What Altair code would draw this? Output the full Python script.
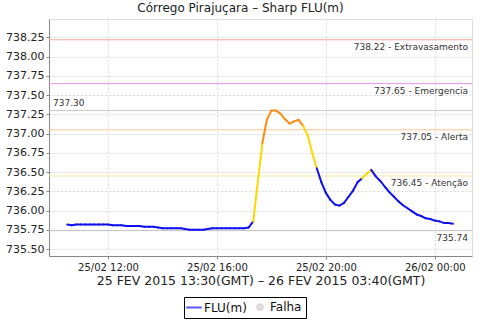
import altair as alt
import pandas as pd

# ---- data ----
times = [
    "10:30", "10:40", "10:50", "11:00", "11:10", "11:20", "11:30", "11:40", "11:50",
    "12:00", "12:10", "12:20", "12:30", "12:40", "12:50", "13:00", "13:10", "13:20",
    "13:30", "13:40", "13:50", "14:00", "14:10", "14:20", "14:30", "14:40", "14:50",
    "15:00", "15:10", "15:20", "15:30", "15:40", "15:50", "16:00", "16:10", "16:20",
    "16:30", "16:40", "16:50", "17:00", "17:10", "17:20", "17:40", "17:50",
    "18:00", "18:10", "18:20", "18:30", "18:40", "18:50", "19:00", "19:10", "19:20",
    "19:30", "19:40", "19:50", "20:00", "20:10", "20:20", "20:30", "20:40", "20:50",
    "21:00", "21:10", "21:20", "21:30", "21:40", "21:50", "22:00", "22:10", "22:20",
    "22:30", "22:40", "22:50", "23:00", "23:10", "23:20", "23:30", "23:40", "23:50",
    "00:00", "00:10", "00:20", "00:30", "00:40",
]
levels = [
    735.82, 735.81, 735.82, 735.82, 735.82, 735.82, 735.82, 735.82, 735.82,
    735.82, 735.81, 735.81, 735.81, 735.80, 735.80, 735.80, 735.80, 735.79,
    735.79, 735.79, 735.78, 735.77, 735.77, 735.77, 735.77, 735.77, 735.76,
    735.75, 735.75, 735.75, 735.75, 735.76, 735.77, 735.77, 735.77, 735.77,
    735.77, 735.77, 735.77, 735.77, 735.78, 735.86, 736.875, 737.18,
    737.30, 737.30, 737.26, 737.19, 737.13, 737.16, 737.18, 737.10, 736.98,
    736.75, 736.55, 736.37, 736.23, 736.14, 736.08, 736.065, 736.10, 736.18,
    736.26, 736.37, 736.42, 736.48, 736.53, 736.445, 736.385, 736.31, 736.24,
    736.18, 736.12, 736.07, 736.03, 735.99, 735.95, 735.93, 735.90, 735.89,
    735.87, 735.86, 735.84, 735.84, 735.83,
]

thr_values = [738.22, 737.65, 737.30, 737.05, 736.45, 735.74]
thr_names = ["Extravasamento", "Emergencia", "Ref", "Alerta", "Atenção", "Min"]
thr_labels = ["738.22 - Extravasamento", "737.65 - Emergencia", "", "737.05 - Alerta",
              "736.45 - Atenção", "735.74"]
left_label = "737.30"
y_ticks = [735.50, 735.75, 736.00, 736.25, 736.50, 736.75, 737.00, 737.25,
           737.50, 737.75, 738.00, 738.25]
legend_items = ["FLU(m)", "Falha"]

title_text = "Córrego Pirajuçara – Sharp FLU(m)"
x_title = "25 FEV 2015 13:30(GMT) – 26 FEV 2015 03:40(GMT)"

# ---- styles ----
thr_colors = ["#f4a0a0", "#e894e8", "#c8c8c8", "#ffc998", "#fbe79a", "#c0c0c0"]
seg_colors = ["#1010f4", "#ffd800", "#ff8c10"]
FONT = "DejaVu Sans"


def iso(hm):
    day = 25 if int(hm[:2]) >= 10 else 26
    return f"2015-02-{day}T{hm}:00Z"


def band(v):
    if v > 737.05:
        return "alto"
    if v > 736.45:
        return "medio"
    return "baixo"


seg = pd.DataFrame({
    "t0": [iso(t) for t in times[:-1]],
    "t1": [iso(t) for t in times[1:]],
    "v0": levels[:-1],
    "v1": levels[1:],
    "b": [band(v) for v in levels[1:]],
})

thr = pd.DataFrame({"v": thr_values, "name": thr_names, "label": thr_labels,
                    "xr": "2015-02-26T01:22:00Z", "xl": "2015-02-25T09:50:00Z"})
thr_left = thr[thr["name"] == "Ref"].assign(label=left_label)

leg = pd.DataFrame({"s": legend_items, "t": "2015-02-25T05:00:00Z", "v": 734.0})

x_dom = [alt.DateTime(year=2015, month=2, date=25, hours=9, minutes=50, utc=True),
         alt.DateTime(year=2015, month=2, date=26, hours=1, minutes=22, utc=True)]
x_vals = [alt.DateTime(year=2015, month=2, date=25, hours=12, utc=True),
          alt.DateTime(year=2015, month=2, date=25, hours=16, utc=True),
          alt.DateTime(year=2015, month=2, date=25, hours=20, utc=True),
          alt.DateTime(year=2015, month=2, date=26, hours=0, utc=True)]

x_axis = alt.Axis(values=x_vals, format="%d/%m %H:%M", title=x_title,
                  labelFontSize=10, labelFont=FONT, labelColor="#222",
                  titleFontSize=12.5, titleFont=FONT, titleFontWeight="normal",
                  titleColor="#222", titlePadding=2, labelPadding=3,
                  gridDash=[2, 2], gridColor="#d8d8d8", domainColor="#888",
                  tickColor="#888", tickSize=3, labelOverlap=False)
y_axis = alt.Axis(values=y_ticks, format=".2f", title=None,
                  labelFontSize=11, labelFont=FONT, labelColor="#222",
                  gridDash=[2, 2], gridColor="#d8d8d8", domainColor="#888",
                  tickColor="#888", tickSize=3, labelPadding=2, labelOverlap=False)
x_scale = alt.Scale(type="utc", domain=x_dom)
y_scale = alt.Scale(domain=[735.41, 738.49], zero=False, nice=False)


def X(field):
    return alt.X(field, scale=x_scale, axis=x_axis)


def Y(field):
    return alt.Y(field, scale=y_scale, axis=y_axis)


thr_rules = alt.Chart(thr).mark_rule(strokeWidth=1).encode(
    y=Y("v:Q"),
    color=alt.Color("name:N", scale=alt.Scale(domain=thr_names, range=thr_colors),
                    legend=None),
)

thr_text = alt.Chart(thr).mark_text(align="right", baseline="top", dx=-4, dy=3,
                                     fontSize=9, font=FONT, color="#333").encode(
    x=X("xr:T"), y=Y("v:Q"), text="label:N")

thr_text_left = alt.Chart(thr_left).mark_text(align="left", baseline="bottom", dx=4, dy=-3,
                                               fontSize=9, font=FONT, color="#333").encode(
    x=X("xl:T"), y=Y("v:Q"), text="label:N")

segments = alt.Chart(seg).mark_rule(strokeWidth=2, strokeCap="round").encode(
    x=X("t0:T"),
    x2="t1:T",
    y=Y("v0:Q"),
    y2="v1:Q",
    color=alt.Color("b:N", scale=alt.Scale(domain=["baixo", "medio", "alto"], range=seg_colors),
                    legend=None),
)

leg_layer = alt.Chart(leg).mark_point(filled=True, clip=True, size=30).encode(
    x=X("t:T"), y=Y("v:Q"),
    fill=alt.Fill("s:N", title=None,
                  scale=alt.Scale(domain=legend_items, range=["#1010f4", "#c8c8c8"]),
                  legend=alt.Legend(orient="none", legendX=135, legendY=278,
                                    direction="horizontal", strokeColor="#000",
                                    padding=4, labelFontSize=12, labelFont=FONT,
                                    labelColor="#111", symbolSize=30,
                                    symbolStrokeWidth=2, columnPadding=6,
                                    labelOffset=4)),
    stroke=alt.Stroke("s:N", title=None,
                      scale=alt.Scale(domain=legend_items, range=["#1010f4", "#c8c8c8"])),
    shape=alt.Shape("s:N", title=None,
                    scale=alt.Scale(domain=legend_items, range=["M-2.85,0L2.85,0", "circle"])),
)

chart = alt.layer(thr_rules, segments, thr_text, thr_text_left, leg_layer).resolve_scale(
    color="independent"
).properties(
    width=423, height=237,
    autosize=alt.AutoSizeParams(type="none"),
    padding={"left": 49, "top": 19, "right": 8, "bottom": 64},
    title=alt.TitleParams(title_text, fontSize=12, font=FONT, fontWeight="normal",
                          color="#222", anchor="middle", frame="group", dx=-20, offset=4),
).configure_view(stroke="#c0c0c0", strokeWidth=1).configure(background="white")

chart.save("out.html", embed_options={"renderer": "svg", "actions": False})
